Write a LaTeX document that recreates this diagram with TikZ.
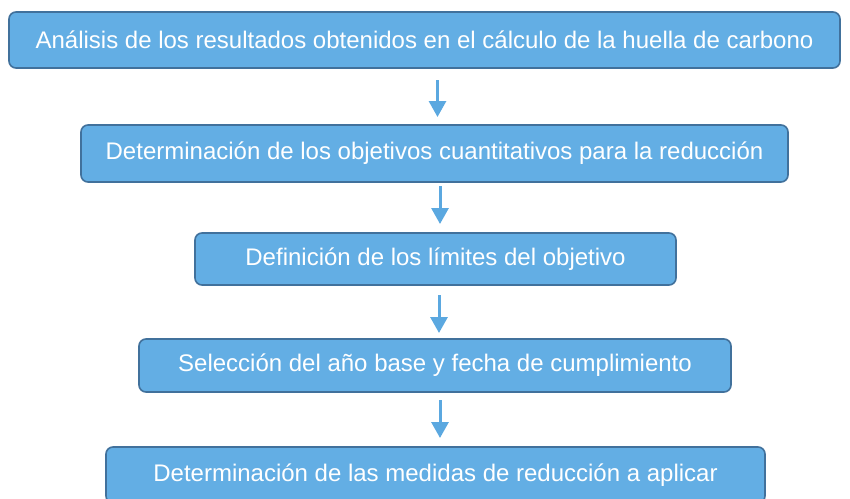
\documentclass[tikz,border=0pt]{standalone}
\usepackage{fontspec}
\setmainfont{Liberation Sans}
\usetikzlibrary{arrows.meta}
\definecolor{boxfill}{HTML}{63AEE4}
\definecolor{boxline}{HTML}{41719C}
\definecolor{arrowc}{HTML}{5BA8E0}
\begin{document}
\begin{tikzpicture}[x=1pt,y=-1pt,
  stepbox/.style={draw=boxline,line width=1.6pt,fill=boxfill,rounded corners=7pt,text=white,
    font=\fontsize{24}{28}\selectfont},
  arr/.style={draw=arrowc,line width=3pt,-{Triangle[width=17pt,length=16pt]}}]
\useasboundingbox (0,0) rectangle (850,498);
\fill[white] (0,0) rectangle (850,498);
\node[stepbox,minimum width=831pt,minimum height=56pt] (b1) at (424.5,40) {Análisis de los resultados obtenidos en el cálculo de la huella de carbono};
\node[stepbox,minimum width=707pt,minimum height=57pt] (b2) at (434.5,153.5) {Determinación de los objetivos cuantitativos para la reducción};
\node[stepbox,minimum width=481pt,minimum height=52pt] (b3) at (435.5,259) {Definición de los límites del objetivo};
\node[stepbox,minimum width=592pt,minimum height=53pt] (b4) at (435,365.5) {Selección del año base y fecha de cumplimiento};
\node[stepbox,minimum width=659pt,minimum height=56pt] (b5) at (435.5,475) {Determinación de las medidas de reducción a aplicar};
\coordinate (a1s) at (437.5,80); \coordinate (a1e) at (437.5,117);
\coordinate (a2s) at (440,186); \coordinate (a2e) at (440,224);
\coordinate (a3s) at (439,295); \coordinate (a3e) at (439,333);
\coordinate (a4s) at (440,400); \coordinate (a4e) at (440,438);
\draw[arr] (a1s) -- (a1e);
\draw[arr] (a2s) -- (a2e);
\draw[arr] (a3s) -- (a3e);
\draw[arr] (a4s) -- (a4e);
\end{tikzpicture}
\end{document}
